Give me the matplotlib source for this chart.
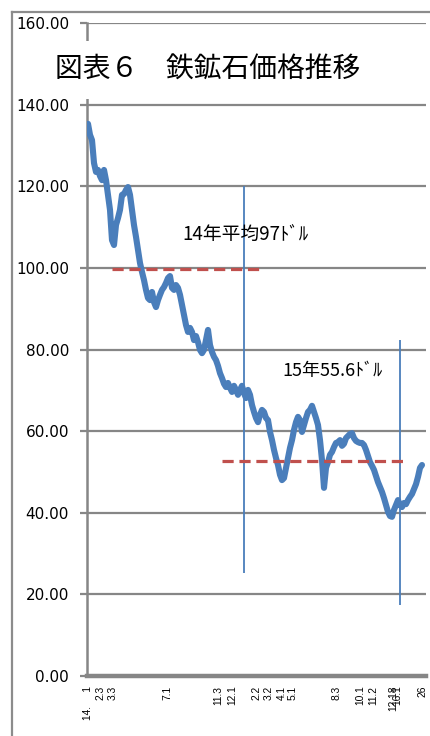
import numpy as np
import matplotlib
matplotlib.use('Agg')
import matplotlib.pyplot as plt
from matplotlib.lines import Line2D

plt.rcParams['font.family'] = ['Noto Sans CJK JP', 'DejaVu Sans']

# iron ore price (USD/t), sampled along the category axis, Jan 2014 -> Jan 2016
price = [
    135.3, 132.6, 131.3, 125.7, 123.5, 124.0, 122.5, 121.5, 124.0, 121.5,
    117.9, 114.2, 106.8, 105.6, 110.5, 112.2, 114.2, 117.9, 118.1, 119.1,
    119.8, 117.9, 114.2, 110.5, 107.6, 104.4, 101.2, 99.0, 97.0, 94.6,
    92.6, 92.1, 94.1, 91.6, 90.4, 92.1, 93.4, 94.6, 95.3, 96.3,
    97.5, 98.0, 95.1, 94.6, 95.8, 95.1, 93.4, 90.9, 88.5, 86.0,
    84.3, 85.3, 84.3, 82.3, 83.3, 81.8, 79.9, 79.1, 79.9, 82.3,
    84.8, 81.1, 79.4, 78.2, 77.4, 76.0, 74.2, 73.0, 71.6, 70.8,
    71.8, 70.6, 69.6, 71.1, 70.1, 68.9, 70.1, 71.1, 69.3, 68.1,
    70.1, 68.9, 66.4, 64.7, 63.2, 62.2, 64.0, 65.2, 64.7, 63.2,
    62.7, 59.8, 57.8, 55.4, 53.4, 51.7, 49.3, 48.0, 48.5, 51.0,
    53.4, 55.9, 57.8, 60.3, 62.2, 63.5, 62.7, 59.8, 61.5, 63.2,
    64.7, 65.2, 66.2, 64.7, 63.2, 61.5, 57.8, 52.9, 46.1, 51.0,
    52.4, 54.2, 54.9, 56.1, 57.1, 57.3, 57.8, 56.4, 56.9, 58.3,
    58.8, 59.3, 59.5, 58.3, 57.6, 57.3, 57.1, 57.1, 56.6, 55.4,
    53.9, 52.4, 51.5, 50.5, 49.0, 47.5, 46.3, 45.1, 43.6, 41.9,
    40.2, 39.2, 39.0, 40.7, 41.9, 43.1, 41.9, 41.4, 42.4, 42.1,
    43.1, 43.9, 44.6, 45.8, 47.0, 48.8, 51.0, 51.7,
]

tick_pos = [0, 6, 12.5, 39.5, 65, 72, 84.5, 90.5, 97, 102.5, 124.5, 136, 142.5, 152.5, 154.5, 167]
tick_lab = ['14.     1', '2.3', '3.3', '7.1', '11.3', '12.1', '2.2', '3.2', '4.1', '5.1',
            '8.3', '10.1', '11.2', '12.18', '16.1', '26']

avg14 = 99.7
avg15 = 52.7
avg14_span = [12, 87]
avg15_span = [67, 157.5]
vlines = [(78, 25.2, 120.1), (156, 17.4, 82.3)]

blue = '#4a7ebb'
red = '#c0504d'
grey = '#868686'

fig = plt.figure(figsize=(4.30, 7.36), dpi=100)
ax = fig.add_axes([87 / 430, 60 / 736, 339 / 430, 653 / 736])

x = np.arange(len(price))
ax.plot(x, price, color=blue, lw=4.4, solid_joinstyle='round', solid_capstyle='round', zorder=4)

ax.hlines(avg14, *avg14_span, colors=red, lw=2.3, linestyles=(0, (3.5, 1.8)), zorder=5)
ax.hlines(avg15, *avg15_span, colors=red, lw=2.3, linestyles=(0, (3.5, 1.8)), zorder=5)
for vx, y0, y1 in vlines:
    ax.vlines(vx, y0, y1, colors=blue, lw=1.3, zorder=3)

ax.text(78.5, 108.3, '14年平均97ﾄﾞﾙ', fontsize=13.5, ha='center', va='center', zorder=6)
ax.text(122, 74.7, '15年55.6ﾄﾞﾙ', fontsize=13, ha='center', va='center', zorder=6)

ax.set_xlim(-0.5, 169)
ax.set_ylim(0, 160)
ax.set_yticks(np.arange(0, 161, 20))
ax.set_yticklabels([f'{v:.2f}' for v in np.arange(0, 161, 20)], fontsize=11, family='DejaVu Sans')
ax.set_xticks(tick_pos)
ax.set_xticklabels(tick_lab, rotation=90, fontsize=7.4, family='Liberation Sans', va='top')
ax.tick_params(axis='x', length=0, pad=7)
ax.tick_params(axis='y', length=5, width=1.6, color=grey, pad=8)
ax.grid(axis='y', color=grey, lw=1.6)
ax.set_axisbelow(True)

for s in ['top', 'right']:
    ax.spines[s].set_visible(False)
ax.spines['left'].set_color(grey)
ax.spines['left'].set_linewidth(1.8)
ax.spines['bottom'].set_color(grey)
ax.spines['bottom'].set_linewidth(3.2)

# outer chart frame
fig.add_artist(Line2D([12 / 430, 12 / 430], [0, 1 - 12 / 736], color='#8c8c8c', lw=1.6))
fig.add_artist(Line2D([12 / 430, 1], [1 - 12 / 736, 1 - 12 / 736], color='#8c8c8c', lw=1.6))

fig.text(208 / 430, 1 - 70 / 736, '図表６　鉄鉱石価格推移', fontsize=20, ha='center', va='center',
         bbox=dict(boxstyle='square,pad=0.5', fc='white', ec='none'))

fig.savefig('out.png', dpi=100)
